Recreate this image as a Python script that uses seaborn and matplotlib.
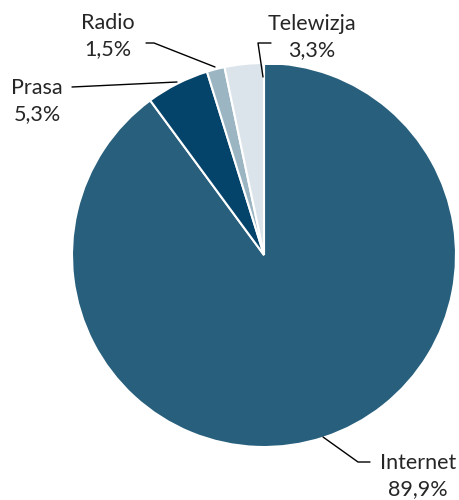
import matplotlib
matplotlib.use("Agg")
import matplotlib.pyplot as plt
import seaborn as sns

# dane z wykresu
labels = ["Internet", "Prasa", "Radio", "Telewizja"]
values = [89.9, 5.3, 1.5, 3.3]
colors = ["#275F7C", "#05446A", "#9BB5C3", "#DCE4EB"]

sns.set_theme(style="white")
plt.rcParams['font.family'] = ['Lato', 'DejaVu Sans']

W, H = 460, 500
cx, cy, r = 264, 255, 192

fig = plt.figure(figsize=(W / 100, H / 100), dpi=100)
ax = fig.add_axes([(cx - r) / W, (H - cy - r) / H, 2 * r / W, 2 * r / H])
ax.pie(values, colors=colors, startangle=90, counterclock=False, radius=1,
       wedgeprops=dict(edgecolor="white", linewidth=1.5))
ax.set_xlim(-1, 1)
ax.set_ylim(-1, 1)
ax.set_aspect("equal")
ax.axis("off")


def d(px, py):
    return ((px - cx) / r, (cy - py) / r)


def lbl(i):
    return f"{labels[i]}\n{values[i]:.1f}%".replace(".", ",")


fs = 15.5
ls = 1.35
line = dict(color="black", lw=1, clip_on=False, zorder=6)
# Internet
ax.plot(*zip(d(323, 437), d(358, 462), d(370, 462)), **line)
ax.text(*d(418, 476), lbl(0), ha="center", va="center", fontsize=fs, linespacing=ls)
# Prasa
ax.plot(*zip(d(72, 87), d(177, 82)), **line)
ax.text(*d(37, 101), lbl(1), ha="center", va="center", fontsize=fs, linespacing=ls)
# Radio
ax.plot(*zip(d(146, 43), d(154, 43), d(215, 67)), **line)
ax.text(*d(108, 36), lbl(2), ha="center", va="center", fontsize=fs, linespacing=ls)
# Telewizja
ax.plot(*zip(d(271, 43), d(258, 43), d(263, 77)), **line)
ax.text(*d(312, 37), lbl(3), ha="center", va="center", fontsize=fs, linespacing=ls,
        bbox=dict(facecolor="white", edgecolor="none", pad=4), zorder=5)

fig.savefig("out.png", dpi=100)
